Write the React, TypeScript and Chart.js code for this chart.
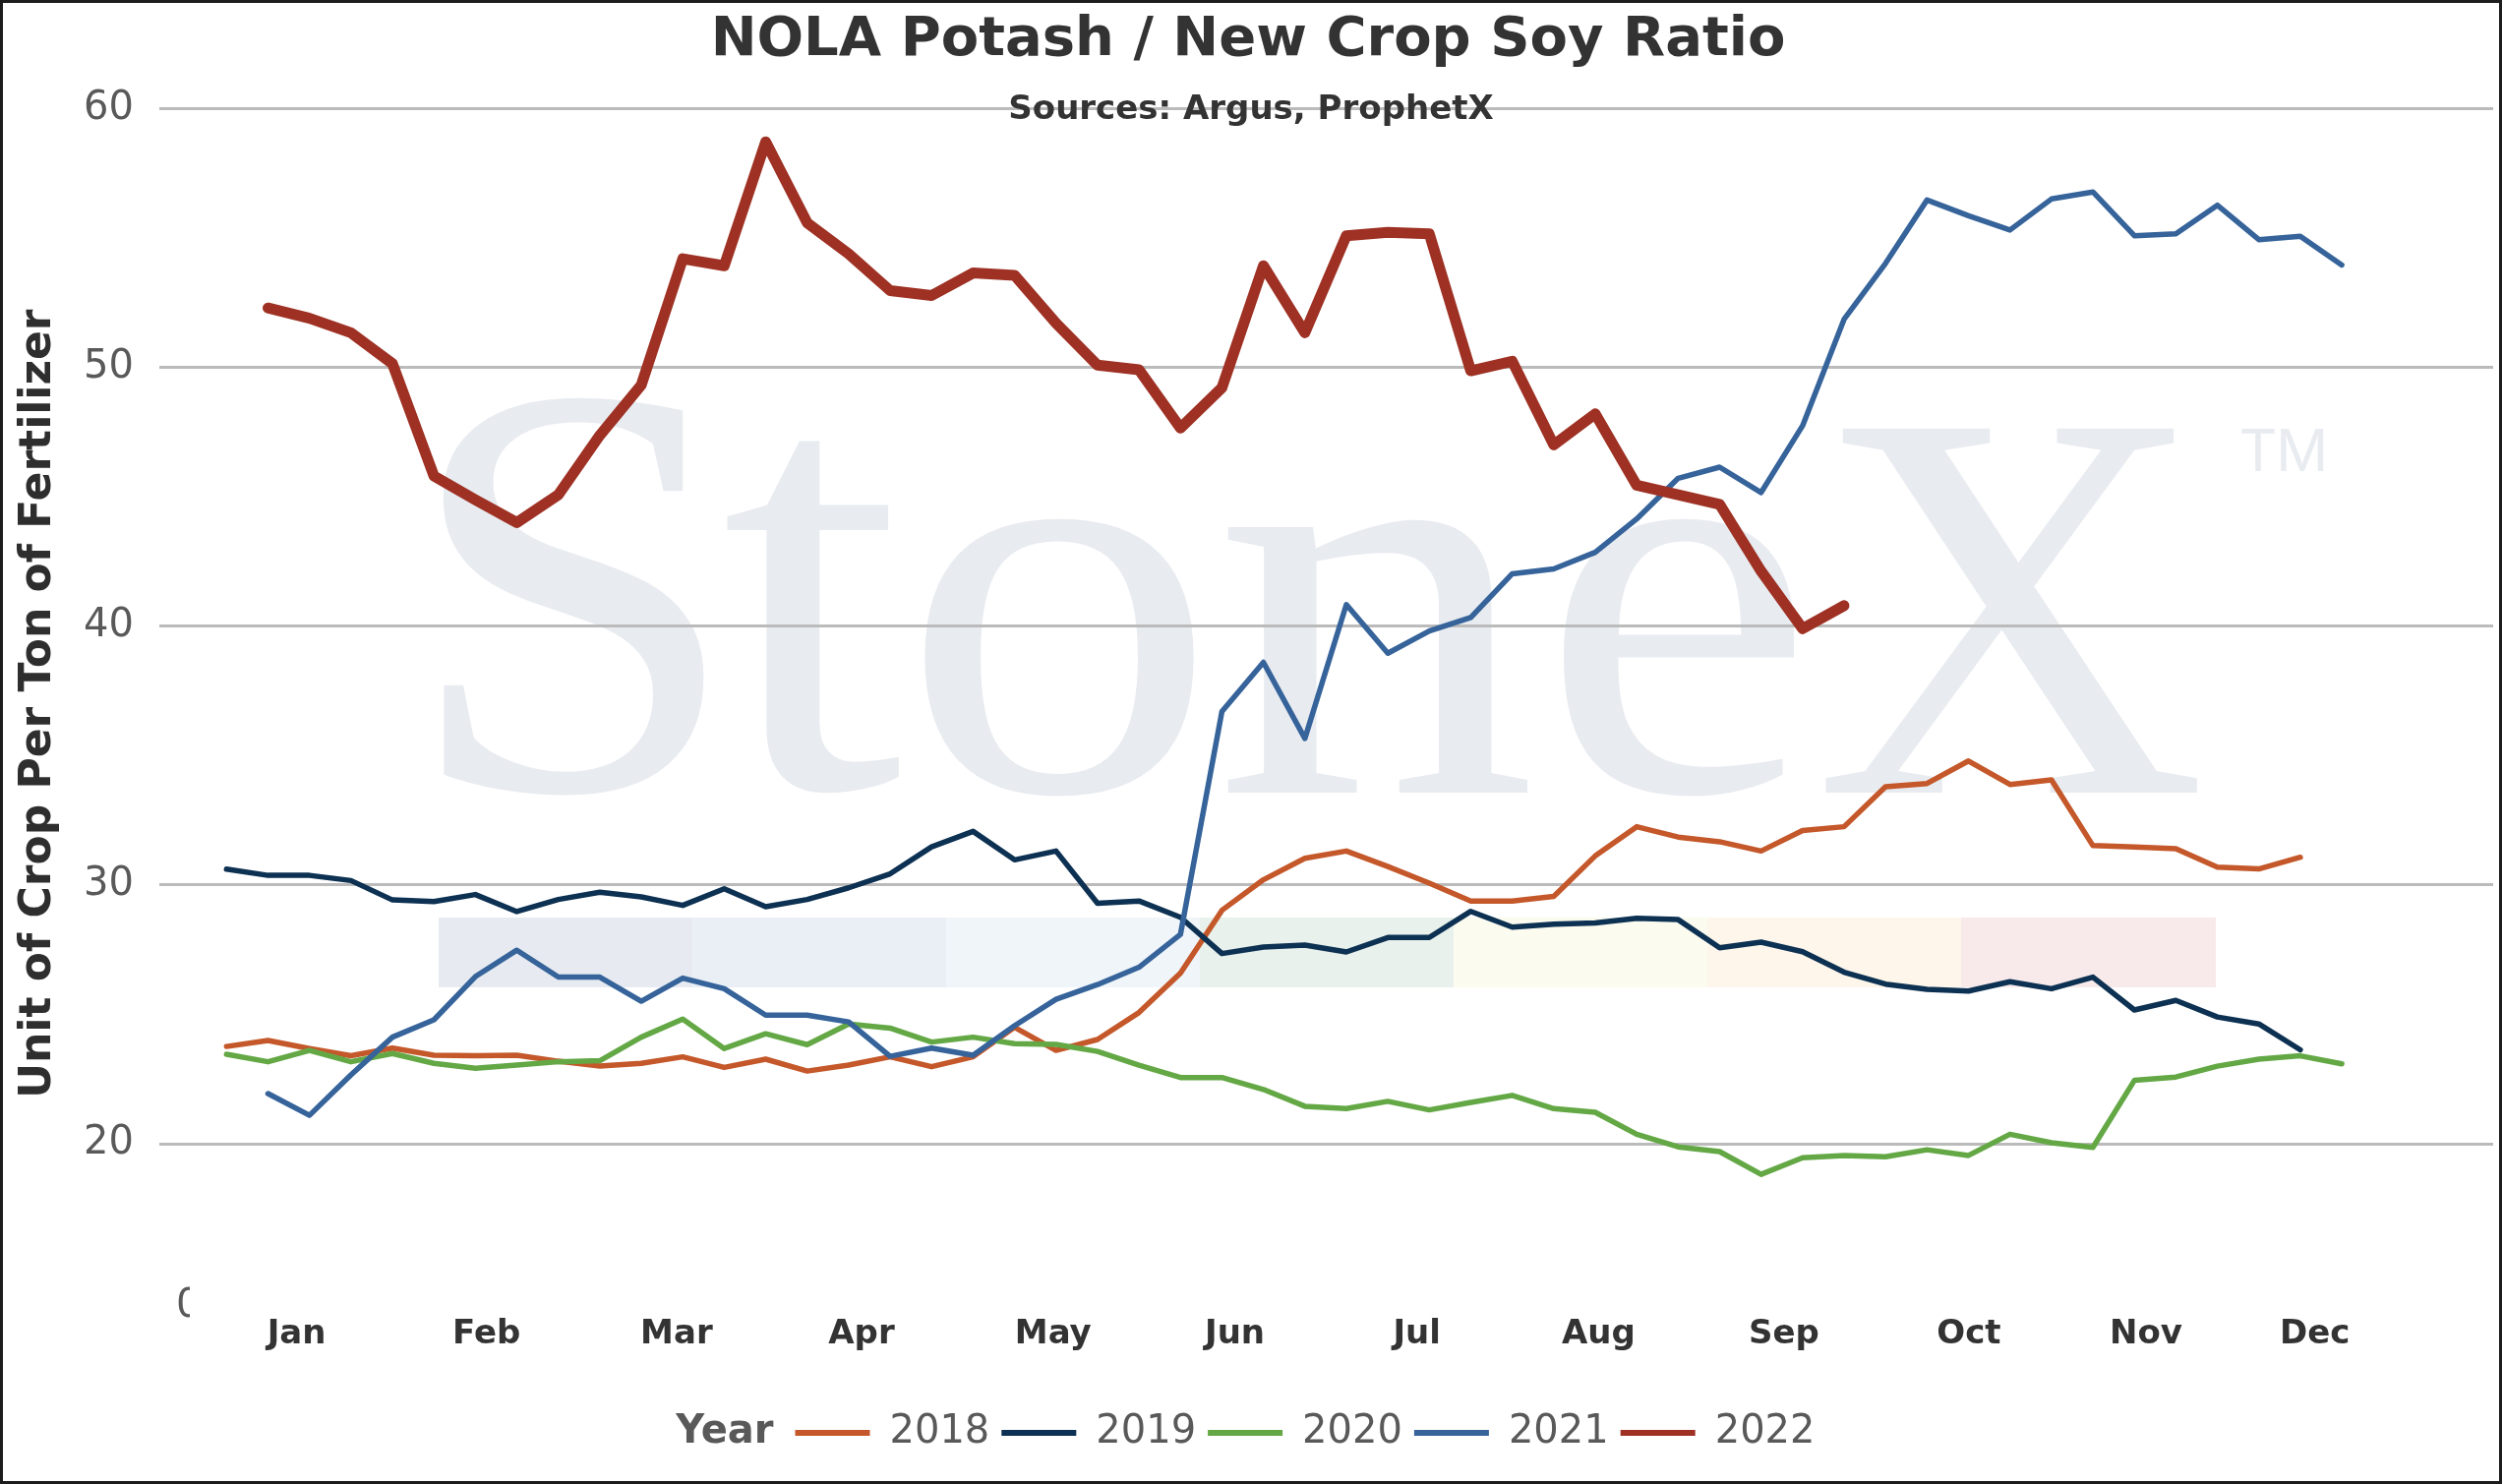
import { useEffect, useRef } from "react"
import { Chart, registerables, type ChartConfiguration, type Plugin } from "chart.js"

Chart.register(...registerables)

// x axis is in weeks of the year (week 0 = first weekly print)
const monthLabels = ["Jan", "Feb", "Mar", "Apr", "May", "Jun", "Jul", "Aug", "Sep", "Oct", "Nov", "Dec"]
const monthWeeks = [1.69, 6.27, 10.85, 15.31, 19.93, 24.31, 28.7, 33.08, 37.55, 42.01, 46.28, 50.35]
const yTicks = [20, 30, 40, 50, 60]

const years = ["2018", "2019", "2020", "2021", "2022"]
const firstWeek = [0, 0, 0, 1, 1]

const ratio2018 = [
  23.76, 23.99, 23.68, 23.4, 23.7, 23.42, 23.4, 23.42, 23.19, 23.0, 23.11, 23.36, 22.95, 23.27, 22.81, 23.04, 23.36,
  22.98, 23.36, 24.5, 23.61, 24.03, 25.07, 26.59, 29.02, 30.2, 31.03, 31.31, 30.71, 30.07, 29.38, 29.38, 29.56, 31.12,
  32.25, 31.85, 31.67, 31.31, 32.1, 32.25, 33.79, 33.92, 34.79, 33.88, 34.06, 31.52, 31.47, 31.4, 30.69, 30.62, 31.07,
]
const ratio2019 = [
  30.61, 30.37, 30.37, 30.17, 29.42, 29.36, 29.63, 28.97, 29.44, 29.72, 29.54, 29.21, 29.85, 29.16, 29.44, 29.89, 30.43,
  31.47, 32.07, 30.97, 31.31, 29.29, 29.38, 28.75, 27.35, 27.6, 27.68, 27.41, 27.97, 27.97, 28.98, 28.37, 28.48, 28.53,
  28.71, 28.66, 27.57, 27.79, 27.42, 26.63, 26.17, 25.97, 25.9, 26.26, 25.99, 26.44, 25.17, 25.54, 24.9, 24.63, 23.63,
]
const ratio2020 = [
  23.46, 23.17, 23.61, 23.17, 23.49, 23.11, 22.92, 23.04, 23.17, 23.21, 24.12, 24.82, 23.68, 24.25, 23.83, 24.63, 24.47,
  23.93, 24.12, 23.87, 23.84, 23.57, 23.04, 22.56, 22.56, 22.1, 21.45, 21.36, 21.64, 21.31, 21.6, 21.87, 21.36, 21.22,
  20.37, 19.88, 19.7, 18.82, 19.46, 19.55, 19.5, 19.77, 19.55, 20.37, 20.04, 19.86, 22.45, 22.58, 23.0, 23.27, 23.4, 23.09,
]
const ratio2021 = [
  21.94, 21.1, 22.66, 24.12, 24.79, 26.46, 27.48, 26.44, 26.44, 25.51, 26.4, 25.99, 24.97, 24.97, 24.71, 23.38, 23.7,
  23.42, 24.56, 25.58, 26.15, 26.82, 28.09, 36.7, 38.6, 35.66, 40.83, 38.95, 39.81, 40.33, 42.02, 42.21, 42.85, 44.14,
  45.71, 46.14, 45.16, 47.74, 51.85, 54.01, 56.46, 55.85, 55.3, 56.5, 56.77, 55.08, 55.15, 56.26, 54.93, 55.06, 53.95,
]
const ratio2022 = [
  52.29, 51.89, 51.33, 50.14, 45.8, 44.88, 44.0, 45.07, 47.37, 49.31, 54.19, 53.92, 58.71, 55.58, 54.38, 52.96, 52.77,
  53.64, 53.55, 51.7, 50.08, 49.9, 47.65, 49.21, 53.92, 51.33, 55.08, 55.21, 55.15, 49.86, 50.23, 47.0, 48.2, 45.44,
  45.07, 44.7, 42.12, 39.9, 40.79,
]

const series = [ratio2018, ratio2019, ratio2020, ratio2021, ratio2022]
const colors = ["#C4582A", "#0D3152", "#64A846", "#35639A", "#9E3124"]
const widths = [5.5, 5.5, 5.5, 5.5, 11]

const FONT = '"DejaVu Sans", Verdana, sans-serif'

// StoneX logo band and lettering behind the plot (canvas pixels)
const stripeColors = ["#E7EBF1", "#EAEFF6", "#F0F5FA", "#E8F1EB", "#FBFBEF", "#FEF6EA", "#F8EAEB"]
const logoGlyphs: [string, number, number, number, number][] = [
  ["S", 445, 716, 396, 809],
  ["t", 730, 917, 436, 807],
  ["o", 933, 1215, 517, 810],
  ["n", 1241, 1560, 518, 803],
  ["e", 1582, 1829, 517, 810],
  ["X", 1850, 2239, 432, 803],
]

function fitGlyph(ctx: CanvasRenderingContext2D, ch: string, family: string, x0: number, x1: number, y0: number, y1: number) {
  ctx.font = `400px ${family}`
  const m = ctx.measureText(ch)
  const w = m.actualBoundingBoxLeft + m.actualBoundingBoxRight
  const h = m.actualBoundingBoxAscent + m.actualBoundingBoxDescent
  if (!w || !h) return
  ctx.save()
  ctx.translate(x0, y0)
  ctx.scale((x1 - x0) / w, (y1 - y0) / h)
  ctx.fillText(ch, m.actualBoundingBoxLeft, m.actualBoundingBoxAscent)
  ctx.restore()
}

const decorPlugin: Plugin<"line"> = {
  id: "decor",
  afterLayout(chart) {
    // keep the legend items to the right of the "Year" caption
    const lg = chart.legend as any
    if (lg) {
      lg.left += 58
      lg.right += 58
    }
  },
  beforeDraw(chart) {
    const { ctx } = chart
    ctx.save()
    ctx.fillStyle = "#FFFFFF"
    ctx.fillRect(0, 0, chart.width, chart.height)

    stripeColors.forEach((c, i) => {
      ctx.fillStyle = c
      ctx.fillRect(443 + i * 258, 930, 259, 71)
    })

    ctx.fillStyle = "#E8EBF0"
    ctx.textAlign = "left"
    ctx.textBaseline = "alphabetic"
    logoGlyphs.forEach(([ch, x0, x1, y0, y1]) =>
      fitGlyph(ctx, ch, '"Liberation Serif", "DejaVu Serif", serif', x0, x1, y0, y1)
    )
    fitGlyph(ctx, "T", '"Liberation Sans", sans-serif', 2276, 2310, 432, 476)
    fitGlyph(ctx, "M", '"Liberation Sans", sans-serif', 2316, 2360, 432, 476)
    ctx.restore()
  },
  afterDraw(chart) {
    const { ctx } = chart
    ctx.save()
    ctx.fillStyle = "#333333"
    ctx.font = `bold 34px ${FONT}`
    ctx.textAlign = "center"
    ctx.textBaseline = "middle"
    ctx.fillText("Sources: Argus, ProphetX", 1269, 109)

    const hb = (chart.legend as any)?.legendHitBoxes?.[0]
    if (hb) {
      ctx.fillStyle = "#595959"
      ctx.font = `bold 40px ${FONT}`
      ctx.textAlign = "right"
      ctx.fillText("Year", hb.left - 22, hb.top + hb.height / 2)
    }

    // clipped stray zero label at the foot of the value axis
    ctx.beginPath()
    ctx.rect(170, 1290, 20, 70)
    ctx.clip()
    ctx.fillStyle = "#595959"
    ctx.font = `40px ${FONT}`
    ctx.textAlign = "left"
    ctx.fillText("0", 176, 1326)
    ctx.restore()
  },
}

export default function App() {
  const chartRef = useRef<HTMLCanvasElement>(null)

  useEffect(() => {
    document.body.style.margin = "0"
    document.body.style.overflow = "hidden"
    if (!chartRef.current) return

    const config: ChartConfiguration<"line"> = {
      type: "line",
      data: {
        datasets: years.map((label, i) => ({
          label,
          data: series[i].map((y, k) => ({ x: firstWeek[i] + k, y })),
          borderColor: colors[i],
          backgroundColor: colors[i],
          borderWidth: widths[i],
          pointRadius: 0,
          pointHoverRadius: 0,
          tension: 0,
          borderCapStyle: "round",
          borderJoinStyle: "round",
          order: years.length - i,
        })),
      },
      options: {
        responsive: false,
        devicePixelRatio: 1,
        animation: false,
        layout: { padding: { top: 0, left: 0, right: 6, bottom: 19 } },
        scales: {
          x: {
            type: "linear",
            min: -1.62,
            max: 54.65,
            grid: { display: false, drawTicks: false },
            border: { display: false },
            afterBuildTicks: (scale) => {
              scale.ticks = monthWeeks.map((value) => ({ value }))
            },
            afterFit: (scale) => {
              scale.height = 104
            },
            ticks: {
              autoSkip: false,
              maxRotation: 0,
              padding: 16,
              color: "#333333",
              font: { family: FONT, size: 34, weight: "bold" },
              callback: (_value, index) => monthLabels[index],
            },
          },
          y: {
            type: "linear",
            min: 14,
            max: 60,
            grid: { color: "#BBBBBB", lineWidth: 3, drawTicks: false },
            border: { display: false },
            afterBuildTicks: (scale) => {
              scale.ticks = yTicks.map((value) => ({ value }))
            },
            afterFit: (scale) => {
              scale.width = 159
            },
            ticks: {
              padding: 26,
              color: "#595959",
              font: { family: FONT, size: 40 },
            },
            title: {
              display: true,
              text: "Unit of Crop Per Ton of Fertilizer",
              color: "#2E2E2E",
              font: { family: FONT, size: 44, weight: "bold" },
              padding: { top: 10, bottom: 20 },
            },
          },
        },
        plugins: {
          title: {
            display: true,
            text: "NOLA Potash / New Crop Soy Ratio",
            color: "#333333",
            font: { family: FONT, size: 56, weight: "bold" },
            padding: { top: 5, bottom: 35 },
          },
          legend: {
            position: "bottom",
            labels: {
              boxWidth: 76,
              boxHeight: 6,
              padding: 12,
              color: "#595959",
              font: { family: FONT, size: 40 },
              generateLabels: (chart) =>
                chart.data.datasets.map((ds, i) => ({
                  text: ds.label as string,
                  fillStyle: ds.borderColor as string,
                  strokeStyle: ds.borderColor as string,
                  lineWidth: 0,
                  hidden: false,
                  datasetIndex: i,
                  fontColor: "#595959",
                })),
            },
          },
          tooltip: { enabled: false },
        },
      },
      plugins: [decorPlugin],
    }

    const chart = new Chart(chartRef.current, config)

    return () => {
      chart.destroy()
    }
  }, [])

  return (
    <div
      style={{
        width: 2544,
        height: 1509,
        boxSizing: "border-box",
        border: "3px solid #1c1c1c",
        background: "#FFFFFF",
      }}
    >
      <canvas ref={chartRef} width={2538} height={1503} style={{ display: "block" }} />
    </div>
  )
}
